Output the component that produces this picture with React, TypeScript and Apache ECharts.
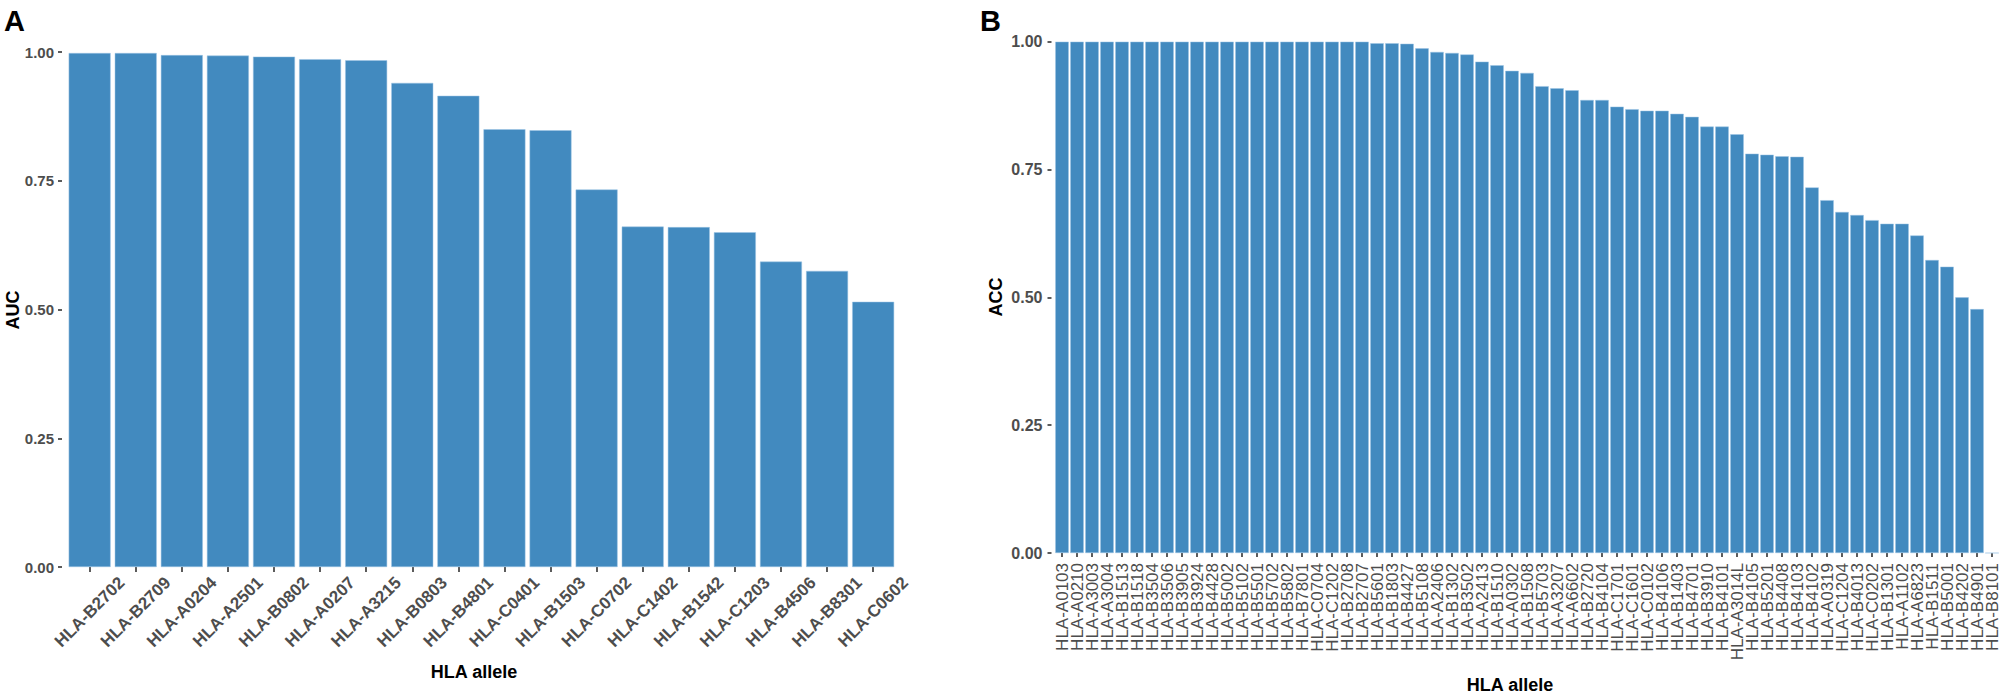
import React, { useEffect, useRef } from "react";
import * as echarts from "echarts";

const aucAlleles = [
  "HLA-B2702", "HLA-B2709", "HLA-A0204", "HLA-A2501", "HLA-B0802", "HLA-A0207",
  "HLA-A3215", "HLA-B0803", "HLA-B4801", "HLA-C0401", "HLA-B1503", "HLA-C0702",
  "HLA-C1402", "HLA-B1542", "HLA-C1203", "HLA-B4506", "HLA-B8301", "HLA-C0602",
];
const aucValues = [
  0.998, 0.998, 0.994, 0.993, 0.991, 0.986, 0.984, 0.94, 0.915, 0.85, 0.848, 0.733,
  0.661, 0.66, 0.65, 0.593, 0.575, 0.515,
];

const accAlleles = [
  "HLA-A0103", "HLA-A0210", "HLA-A3003", "HLA-A3004", "HLA-B1513", "HLA-B1518",
  "HLA-B3504", "HLA-B3506", "HLA-B3905", "HLA-B3924", "HLA-B4428", "HLA-B5002",
  "HLA-B5102", "HLA-B5501", "HLA-B5702", "HLA-B5802", "HLA-B7801", "HLA-C0704",
  "HLA-C1202", "HLA-B2708", "HLA-B2707", "HLA-B5601", "HLA-B1803", "HLA-B4427",
  "HLA-B5108", "HLA-A2406", "HLA-B1302", "HLA-B3502", "HLA-A2413", "HLA-B1510",
  "HLA-A0302", "HLA-B1508", "HLA-B5703", "HLA-A3207", "HLA-A6602", "HLA-B2720",
  "HLA-B4104", "HLA-C1701", "HLA-C1601", "HLA-C0102", "HLA-B4106", "HLA-B1403",
  "HLA-B4701", "HLA-B3910", "HLA-B4101", "HLA-A3014L", "HLA-B4105", "HLA-B5201",
  "HLA-B4408", "HLA-B4103", "HLA-B4102", "HLA-A0319", "HLA-C1204", "HLA-B4013",
  "HLA-C0202", "HLA-B1301", "HLA-A1102", "HLA-A6823", "HLA-B1511", "HLA-B5001",
  "HLA-B4202", "HLA-B4901", "HLA-B8101",
];
const accValues = [
  1, 1, 1, 1, 1, 1, 1, 1, 1, 1, 1, 1, 1, 1, 1, 1, 1, 1, 1, 1, 1,
  0.997, 0.997, 0.996, 0.987, 0.98, 0.978, 0.975, 0.961, 0.954, 0.943, 0.939,
  0.913, 0.909, 0.905, 0.886, 0.886, 0.873, 0.868, 0.865, 0.865, 0.859, 0.853,
  0.834, 0.834, 0.819, 0.781, 0.779, 0.776, 0.775, 0.715, 0.69, 0.667, 0.661,
  0.651, 0.644, 0.644, 0.621, 0.573, 0.56, 0.5, 0.477, 0,
];

const yTicks = [0, 0.25, 0.5, 0.75, 1];

const FONT = "'Liberation Sans', Arial, sans-serif";
const BAR = "#428ABF";
const TICK_TEXT = "#4D4D4D";

export default function App() {
  const ref = useRef<HTMLDivElement>(null);
  useEffect(() => {
    const chart = echarts.init(ref.current!, null, { renderer: "svg" });
    const yAxisBase = (gridIndex: number, offset: number, margin: number, fontSize: number) => ({
      type: "value",
      gridIndex,
      min: yTicks[0],
      max: yTicks[yTicks.length - 1],
      interval: yTicks[1] - yTicks[0],
      offset,
      splitLine: { show: false },
      axisLine: { show: false },
      axisTick: { show: true, length: 4, lineStyle: { color: "#333", width: 1.6 } },
      axisLabel: {
        margin,
        fontSize,
        fontWeight: "bold",
        fontFamily: FONT,
        color: TICK_TEXT,
        formatter: (v: number) => v.toFixed(2),
      },
    });
    chart.setOption({
      animation: false,
      backgroundColor: "#ffffff",
      grid: [
        { left: 66.6, top: 52, width: 829.6, height: 515 },
        { left: 1054.5, top: 41.7, width: 945, height: 511.3 },
      ],
      xAxis: [
        {
          type: "category",
          gridIndex: 0,
          data: aucAlleles,
          axisLine: { show: false },
          axisTick: { show: true, alignWithLabel: true, length: 5, lineStyle: { color: "#333", width: 1.6 } },
          axisLabel: {
            interval: 0,
            rotate: 45,
            align: "center",
            verticalAlign: "middle",
            margin: 45,
            fontSize: 17,
            fontWeight: "bold",
            fontFamily: FONT,
            color: TICK_TEXT,
          },
        },
        {
          type: "category",
          gridIndex: 1,
          data: accAlleles,
          axisLine: { show: false },
          axisTick: { show: true, alignWithLabel: true, length: 4, lineStyle: { color: "#333", width: 1.6 } },
          axisLabel: {
            interval: 0,
            rotate: 90,
            margin: 10,
            fontSize: 17,
            fontFamily: FONT,
            color: TICK_TEXT,
          },
        },
      ],
      yAxis: [yAxisBase(0, 4.6, 8, 15), yAxisBase(1, 3, 9, 16)],
      series: [
        {
          type: "bar",
          xAxisIndex: 0,
          yAxisIndex: 0,
          data: aucValues,
          barCategoryGap: "9%",
          itemStyle: { color: BAR, borderColor: "#9cc5e5", borderWidth: 0.5 },
        },
        {
          type: "bar",
          xAxisIndex: 1,
          yAxisIndex: 1,
          data: accValues,
          barCategoryGap: "10%",
          itemStyle: { color: BAR, borderColor: "#9cc5e5", borderWidth: 0.5 },
        },
      ],
      graphic: [
        { type: "text", left: 4, top: 6, style: { text: "A", font: `bold 29px ${FONT}`, fill: "#000" } },
        { type: "text", left: 980, top: 6, style: { text: "B", font: `bold 29px ${FONT}`, fill: "#000" } },
        {
          type: "text",
          x: 13,
          y: 310,
          rotation: Math.PI / 2,
          style: { text: "AUC", font: `bold 18px ${FONT}`, fill: "#000", align: "center", verticalAlign: "middle" },
        },
        {
          type: "text",
          x: 996,
          y: 297,
          rotation: Math.PI / 2,
          style: { text: "ACC", font: `bold 18px ${FONT}`, fill: "#000", align: "center", verticalAlign: "middle" },
        },
        {
          type: "text",
          x: 474,
          y: 672,
          style: { text: "HLA allele", font: `bold 18px ${FONT}`, fill: "#000", align: "center", verticalAlign: "middle" },
        },
        {
          type: "text",
          x: 1510,
          y: 685,
          style: { text: "HLA allele", font: `bold 18px ${FONT}`, fill: "#000", align: "center", verticalAlign: "middle" },
        },
      ],
    });
    return () => chart.dispose();
  }, []);
  return (
    <div
      ref={ref}
      style={{ position: "fixed", left: 0, top: 0, width: 2008, height: 696, background: "#fff" }}
    />
  );
}
